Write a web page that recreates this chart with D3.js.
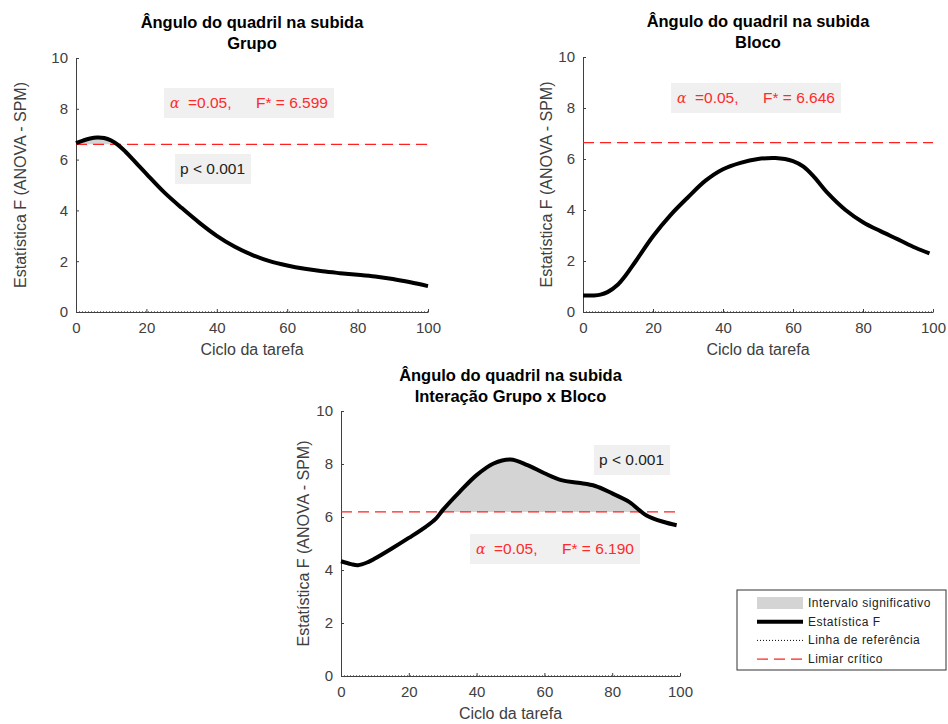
<!DOCTYPE html>
<html lang="pt">
<head>
  <meta charset="UTF-8">
  <title>Ângulo do quadril na subida</title>
  <script src="https://d3js.org/d3.v7.min.js"></script>
  <style>
    body { margin: 0; background: #fff; font-family: "Liberation Sans", Arial, sans-serif; }
    svg { display: block; }
    .title { font-size: 16.5px; font-weight: bold; fill: #000; }
    .label { font-size: 16px; fill: #404040; }
    .legend text { font-size: 12px; fill: #222; letter-spacing: 0.5px; }
  </style>
</head>
<body>
<svg width="948" height="724"></svg>

<script>
  // Ciclo da tarefa (%)
  const cicloGrupo = [0, 2, 4, 6, 8, 10, 12, 14, 16, 18, 20, 25, 30, 35, 40, 45, 50, 55, 60, 65, 70, 75, 80, 85, 90, 95, 100];
  const fGrupo = [6.65, 6.75, 6.83, 6.87, 6.85, 6.75, 6.57, 6.32, 6.03, 5.73, 5.44, 4.72, 4.1, 3.52, 3.0, 2.58, 2.25, 2.0, 1.83, 1.7, 1.6, 1.53, 1.47, 1.4, 1.3, 1.17, 1.02];

  const cicloBloco = [0, 3, 5, 7, 10, 12, 15, 20, 25, 30, 35, 40, 45, 50, 55, 60, 63, 66, 70, 75, 80, 85, 90, 95, 99];
  const fBloco = [0.65, 0.65, 0.68, 0.78, 1.08, 1.4, 1.98, 2.97, 3.8, 4.5, 5.15, 5.6, 5.85, 6.0, 6.04, 5.92, 5.7, 5.3, 4.65, 4.0, 3.52, 3.17, 2.85, 2.52, 2.3];

  const cicloInter = [0, 3, 5, 8, 10, 15, 20, 25, 28, 30, 35, 40, 45, 50, 55, 60, 65, 70, 75, 80, 85, 88, 90, 95, 99];
  const fInter = [4.33, 4.22, 4.18, 4.3, 4.43, 4.81, 5.21, 5.63, 5.94, 6.26, 6.95, 7.58, 8.02, 8.17, 7.96, 7.65, 7.39, 7.29, 7.17, 6.89, 6.57, 6.26, 6.07, 5.82, 5.69];

  const limiares = [6.599, 6.646, 6.190];
  const subtitulos = ["Grupo", "Bloco", "Interação Grupo x Bloco"];
  const pValores = ["p < 0.001", null, "p < 0.001"];
  const xTicks = [0, 20, 40, 60, 80, 100];
  const yTicks = [0, 2, 4, 6, 8, 10];
  const legendaItens = ["Intervalo significativo", "Estatística F", "Linha de referência", "Limiar crítico"];

  const svg = d3.select("svg");

  // posição de cada painel e das caixas de texto
  const paineis = [
    {x0: 76, x1: 428, y0: 58, y1: 312, ylab: 56, ciclo: cicloGrupo, f: fGrupo,
     alphaBox: [164, 88], pBox: [175, 154]},
    {x0: 583, x1: 933, y0: 57, y1: 312, ylab: 37, ciclo: cicloBloco, f: fBloco,
     alphaBox: [671, 83], pBox: null},
    {x0: 341, x1: 680, y0: 411, y1: 676, ylab: 38, ciclo: cicloInter, f: fInter,
     alphaBox: [470, 534], pBox: [594, 445]}
  ];

  const curva = d3.curveCatmullRom.alpha(0.5);

  paineis.forEach((p, i) => {
    const x = d3.scaleLinear().domain([0, 100]).range([p.x0, p.x1]);
    const y = d3.scaleLinear().domain([0, 10]).range([p.y1, p.y0]);
    const thr = limiares[i];
    const pts = p.ciclo.map((c, k) => [c, p.f[k]]);
    const g = svg.append("g");

    // área significativa (acima do limiar)
    const clipId = "clip" + i;
    svg.append("clipPath").attr("id", clipId)
      .append("rect")
        .attr("x", p.x0).attr("y", p.y0)
        .attr("width", p.x1 - p.x0).attr("height", y(thr) - p.y0);

    g.append("path")
      .datum(pts)
      .attr("clip-path", `url(#${clipId})`)
      .attr("fill", "#d4d4d4")
      .attr("d", d3.area().curve(curva)
        .x(d => x(d[0])).y0(y(thr)).y1(d => y(d[1])));

    // linha de referência (zero)
    g.append("line")
      .attr("x1", x(0)).attr("x2", x(100))
      .attr("y1", y(0)).attr("y2", y(0))
      .attr("stroke", "#000").attr("stroke-width", 1)
      .attr("stroke-dasharray", "1,2");

    // eixos
    const ax = g.append("g")
      .attr("transform", `translate(0,${p.y1})`)
      .call(d3.axisBottom(x).tickValues(xTicks).tickSizeInner(-3).tickSizeOuter(0).tickPadding(10));
    const ay = g.append("g")
      .attr("transform", `translate(${p.x0},0)`)
      .call(d3.axisLeft(y).tickValues(yTicks).tickSizeInner(-3).tickSizeOuter(0).tickPadding(8));
    [ax, ay].forEach(a => {
      a.attr("font-family", null).attr("font-size", null);
      a.select(".domain").attr("stroke", "#404040");
      a.selectAll(".tick line").attr("stroke", "#404040");
      a.selectAll(".tick text")
        .attr("font-family", "'Liberation Sans', Arial, sans-serif")
        .attr("font-size", 15).attr("fill", "#404040");
    });

    // limiar crítico
    g.append("line")
      .attr("x1", x(0)).attr("x2", x(100))
      .attr("y1", y(thr)).attr("y2", y(thr))
      .attr("stroke", "#ff2020").attr("stroke-width", 1.2)
      .attr("stroke-dasharray", "11,6");

    // estatística F
    g.append("path")
      .datum(pts)
      .attr("fill", "none")
      .attr("stroke", "#000")
      .attr("stroke-width", 4)
      .attr("stroke-linejoin", "round")
      .attr("d", d3.line().curve(curva).x(d => x(d[0])).y(d => y(d[1])));

    // títulos
    const cx = (p.x0 + p.x1) / 2;
    g.append("text").attr("class", "title").attr("x", cx).attr("y", p.y0 - 30)
      .attr("text-anchor", "middle").text("Ângulo do quadril na subida");
    g.append("text").attr("class", "title").attr("x", cx).attr("y", p.y0 - 9)
      .attr("text-anchor", "middle").text(subtitulos[i]);

    g.append("text").attr("class", "label").attr("x", cx).attr("y", p.y1 + 43)
      .attr("text-anchor", "middle").text("Ciclo da tarefa");
    g.append("text").attr("class", "label")
      .attr("transform", `translate(${p.x0 - p.ylab + 6},${(p.y0 + p.y1) / 2}) rotate(-90)`)
      .attr("text-anchor", "middle").text("Estatística F (ANOVA - SPM)");

    // caixa alfa / F*
    const [bx, by] = p.alphaBox;
    g.append("rect").attr("x", bx).attr("y", by).attr("width", 170).attr("height", 30)
      .attr("fill", "#f0f0f0");
    const ta = g.append("text").attr("x", bx + 6).attr("y", by + 20)
      .attr("font-size", 15.5).attr("fill", "#ff2a2a");
    ta.append("tspan").attr("font-family", "'DejaVu Serif', serif").attr("font-style", "italic")
      .attr("font-size", 14).text("α");
    ta.append("tspan").attr("x", bx + 24).text("=0.05,");
    ta.append("tspan").attr("x", bx + 92).text(`F* = ${thr.toFixed(3)}`);

    // caixa p
    if (p.pBox) {
      const [qx, qy] = p.pBox;
      g.append("rect").attr("x", qx).attr("y", qy).attr("width", 76).attr("height", 30)
        .attr("fill", "#f0f0f0");
      g.append("text").attr("x", qx + 5).attr("y", qy + 20)
        .attr("font-size", 15.5).attr("fill", "#222").text(pValores[i]);
    }
  });

  // legenda
  const leg = svg.append("g").attr("class", "legend").attr("transform", "translate(737,590)");
  leg.append("rect").attr("width", 209).attr("height", 80)
    .attr("fill", "#fff").attr("stroke", "#333").attr("stroke-width", 1);
  legendaItens.forEach((nome, k) => {
    const row = leg.append("g").attr("transform", `translate(0,${13 + k * 18.7})`);
    if (k === 0) {
      row.append("rect").attr("x", 20).attr("y", -6).attr("width", 46).attr("height", 12)
        .attr("fill", "#d4d4d4");
    } else if (k === 1) {
      row.append("line").attr("x1", 20).attr("x2", 66).attr("stroke", "#000").attr("stroke-width", 4);
    } else if (k === 2) {
      row.append("line").attr("x1", 20).attr("x2", 66).attr("stroke", "#000")
        .attr("stroke-width", 1).attr("stroke-dasharray", "1,2");
    } else {
      row.append("line").attr("x1", 20).attr("x2", 66).attr("stroke", "#ff2020")
        .attr("stroke-width", 1.2).attr("stroke-dasharray", "11,6");
    }
    row.append("text").attr("x", 71).attr("y", 4).text(nome);
  });
</script>
</body>
</html>
